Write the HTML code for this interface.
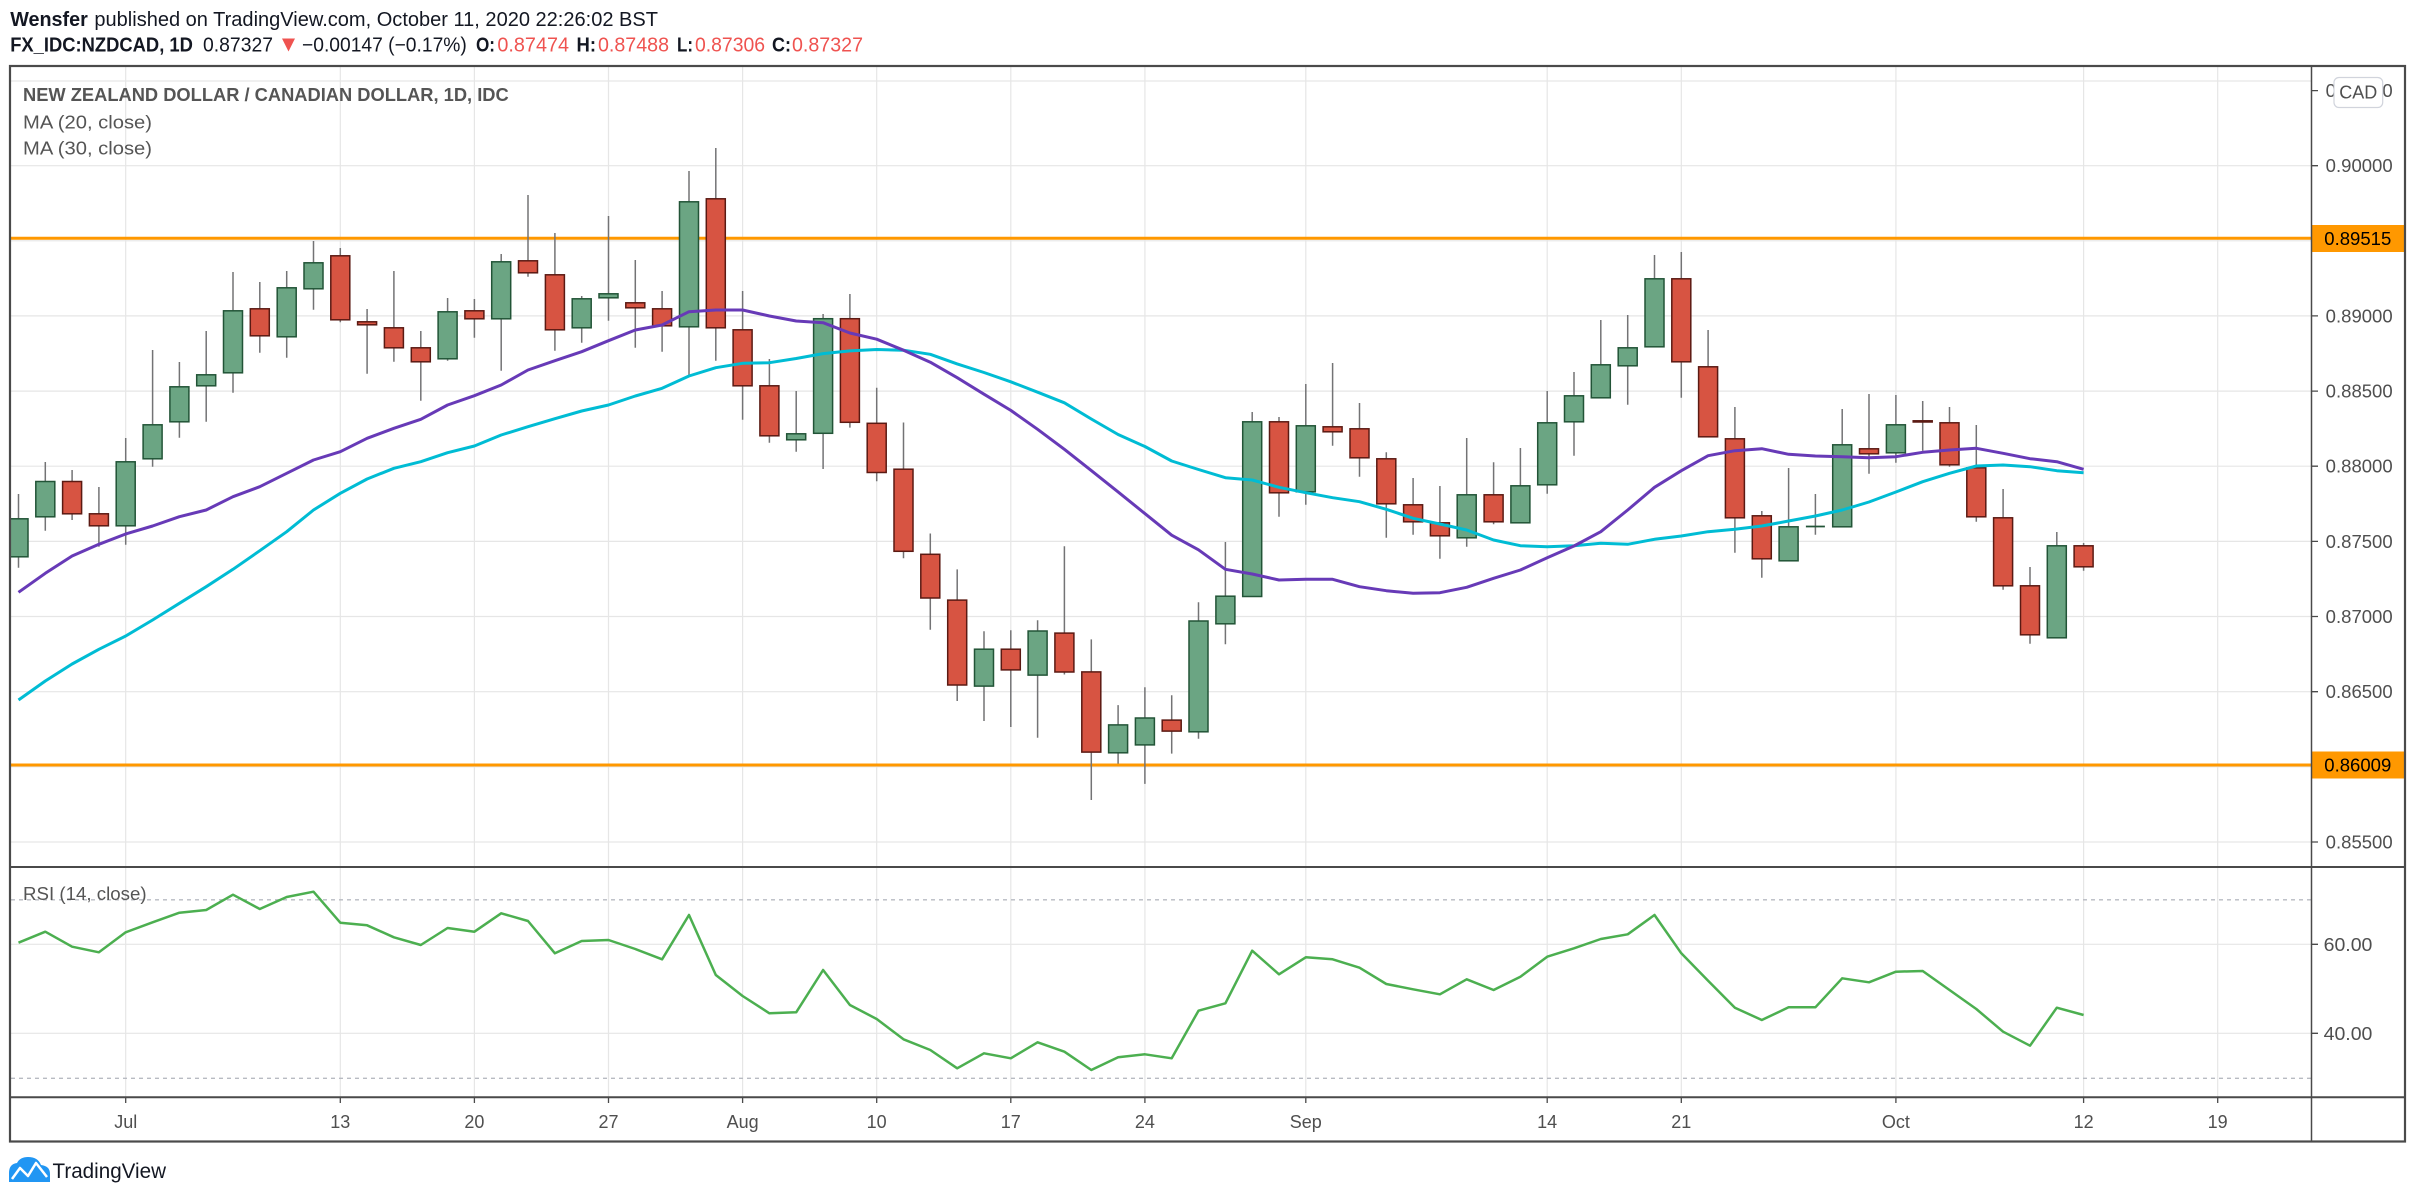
<!DOCTYPE html>
<html><head><meta charset="utf-8"><style>
html,body{margin:0;padding:0;background:#fff;}
svg{display:block;}
text{font-family:"Liberation Sans",Arial,sans-serif;}
.g{fill:#6ba583;stroke:#225437;stroke-width:1.5}
.r{fill:#d75442;stroke:#5b1a13;stroke-width:1.5}
.pl{font-size:18px;fill:#4f4f4f}
.tl{font-size:18px;fill:#4f4f4f;text-anchor:middle}
</style></head><body>
<svg width="2415" height="1199" viewBox="0 0 2415 1199" xmlns="http://www.w3.org/2000/svg">
<defs>
<clipPath id="cm"><rect x="11" y="67" width="2300" height="799"/></clipPath>
<clipPath id="cr"><rect x="11" y="868" width="2300" height="228"/></clipPath>
</defs>
<rect width="2415" height="1199" fill="#fff"/>

<!-- header -->
<text x="10.2" y="26" font-size="20" font-weight="bold" fill="#131722" textLength="77.6" lengthAdjust="spacingAndGlyphs">Wensfer</text>
<text x="94.4" y="26" font-size="20" fill="#131722" textLength="563.6" lengthAdjust="spacingAndGlyphs">published on TradingView.com, October 11, 2020 22:26:02 BST</text>
<text x="10.2" y="51.7" font-size="20" font-weight="bold" fill="#131722" textLength="182.7" lengthAdjust="spacingAndGlyphs">FX_IDC:NZDCAD, 1D</text>
<text x="203" y="51.7" font-size="20" fill="#131722" textLength="70" lengthAdjust="spacingAndGlyphs">0.87327</text>
<polygon points="282,38.5 295,38.5 288.5,51.5" fill="#ef5350"/>
<text x="302" y="51.7" font-size="20" fill="#131722" textLength="164.8" lengthAdjust="spacingAndGlyphs">−0.00147 (−0.17%)</text>
<text x="476" y="51.7" font-size="20" font-weight="bold" fill="#131722" textLength="19" lengthAdjust="spacingAndGlyphs">O:</text>
<text x="497.4" y="51.7" font-size="20" fill="#ef5350" textLength="71.6" lengthAdjust="spacingAndGlyphs">0.87474</text>
<text x="576.5" y="51.7" font-size="20" font-weight="bold" fill="#131722" textLength="19.5" lengthAdjust="spacingAndGlyphs">H:</text>
<text x="598" y="51.7" font-size="20" fill="#ef5350" textLength="71" lengthAdjust="spacingAndGlyphs">0.87488</text>
<text x="677" y="51.7" font-size="20" font-weight="bold" fill="#131722" textLength="16" lengthAdjust="spacingAndGlyphs">L:</text>
<text x="695" y="51.7" font-size="20" fill="#ef5350" textLength="70" lengthAdjust="spacingAndGlyphs">0.87306</text>
<text x="772" y="51.7" font-size="20" font-weight="bold" fill="#131722" textLength="19" lengthAdjust="spacingAndGlyphs">C:</text>
<text x="792" y="51.7" font-size="20" fill="#ef5350" textLength="71" lengthAdjust="spacingAndGlyphs">0.87327</text>

<!-- gridlines -->
<g stroke="#e6e6e6" stroke-width="1.2">
<path d="M11 81H2311M11 165.7H2311M11 240.8H2311M11 315.9H2311M11 391.1H2311M11 466.2H2311M11 541.4H2311M11 616.5H2311M11 691.7H2311M11 766.8H2311M11 842H2311"/>
<path d="M11 944.3H2311M11 1033.3H2311"/>
<path d="M125.7 67V1097M340.3 67V1097M474.4 67V1097M608.5 67V1097M742.6 67V1097M876.7 67V1097M1010.8 67V1097M1144.9 67V1097M1305.8 67V1097M1547.2 67V1097M1681.3 67V1097M1895.9 67V1097M2083.6 67V1097M2217.7 67V1097"/>
</g>
<path d="M11 899.8H2311M11 1078.3H2311" stroke="#b8bbc2" stroke-width="1.3" stroke-dasharray="4 4"/>

<!-- main pane -->
<g clip-path="url(#cm)">
<path d="M11 238.3H2311M11 765H2311" stroke="#ff9800" stroke-width="3"/>
<path stroke="#737375" stroke-width="1.5" fill="none" d="M18.5 494V567.7M45.3 462V530.7M72.1 470V520M98.9 487V546.7M125.7 438V544.7M152.6 350V466.7M179.4 362V437.7M206.2 331V421.7M233 272V392.7M259.8 282V352.7M286.7 271V357.7M313.5 241V309.7M340.3 248V322.3M367.1 309V373.7M393.9 271V361.7M420.8 331V400.7M447.6 298V360.7M474.4 299V337.7M501.2 254V370.7M528 195V276.7M554.9 233V350.7M581.7 296V342.7M608.5 216V320.7M635.3 260V347.7M662.1 291V351.7M689 171V375.7M715.8 148V360.7M742.6 291V419.7M769.4 359V442.7M796.2 391V451.7M823.1 314V469M849.9 294V427.6M876.7 387.7V481.3M903.5 422.5V558.3M930.3 533.5V629.8M957.2 569.4V701M984 631.2V721M1010.8 630.2V727M1037.6 620.2V737.8M1064.4 546.3V674.5M1091.3 639.4V800M1118.1 705.1V763.6M1144.9 687.3V783.9M1171.7 695.2V753.6M1198.5 602.3V738.8M1225.4 542V644.3M1252.2 412V597M1279 417V516.7M1305.8 384V504.7M1332.6 363V445.7M1359.5 403V476.7M1386.3 452.3V537.7M1413.1 478V534.7M1439.9 486V558.7M1466.7 438V546.7M1493.6 462.3V524.3M1520.4 448V523.3M1547.2 391V493.7M1574 372V455.7M1600.8 320V398.3M1627.7 315V404.7M1654.5 255V347.3M1681.3 252V397.7M1708.1 330V437.3M1734.9 407V552.7M1761.8 511V577.7M1788.6 468V561.3M1815.4 494V534.7M1842.2 409V527.3M1869 394V473.7M1895.9 395V462.7M1922.7 401V450.7M1949.5 407V466.7M1976.3 425V521.7M2003.1 489V589.7M2030 567V643.7M2056.8 532V638.3M2083.6 543V570.7"/>
<rect class="g" x="9" y="518.8" width="19" height="38"/>
<rect class="g" x="35.8" y="481.5" width="19" height="35.3"/>
<rect class="r" x="62.6" y="481.5" width="19" height="32.3"/>
<rect class="r" x="89.4" y="513.8" width="19" height="12"/>
<rect class="g" x="116.2" y="461.8" width="19" height="64"/>
<rect class="g" x="143.1" y="424.8" width="19" height="34"/>
<rect class="g" x="169.9" y="386.8" width="19" height="35"/>
<rect class="g" x="196.7" y="374.8" width="19" height="11"/>
<rect class="g" x="223.5" y="310.8" width="19" height="62"/>
<rect class="r" x="250.3" y="308.8" width="19" height="27"/>
<rect class="g" x="277.2" y="287.8" width="19" height="49"/>
<rect class="g" x="304" y="262.8" width="19" height="26"/>
<rect class="r" x="330.8" y="255.8" width="19" height="64"/>
<rect class="r" x="357.6" y="321.8" width="19" height="3"/>
<rect class="r" x="384.4" y="327.8" width="19" height="20"/>
<rect class="r" x="411.3" y="347.8" width="19" height="14"/>
<rect class="g" x="438.1" y="311.8" width="19" height="47"/>
<rect class="r" x="464.9" y="310.8" width="19" height="8"/>
<rect class="g" x="491.7" y="261.8" width="19" height="57"/>
<rect class="r" x="518.5" y="260.8" width="19" height="12"/>
<rect class="r" x="545.4" y="274.8" width="19" height="55"/>
<rect class="g" x="572.2" y="298.8" width="19" height="29"/>
<rect class="g" x="599" y="293.8" width="19" height="4"/>
<rect class="r" x="625.8" y="302.8" width="19" height="5"/>
<rect class="r" x="652.6" y="308.8" width="19" height="17"/>
<rect class="g" x="679.5" y="201.8" width="19" height="125"/>
<rect class="r" x="706.3" y="198.8" width="19" height="129"/>
<rect class="r" x="733.1" y="329.8" width="19" height="56"/>
<rect class="r" x="759.9" y="385.8" width="19" height="50"/>
<rect class="g" x="786.7" y="433.8" width="19" height="6"/>
<rect class="g" x="813.6" y="318.7" width="19" height="114.6"/>
<rect class="r" x="840.4" y="318.7" width="19" height="103.6"/>
<rect class="r" x="867.2" y="423.3" width="19" height="49.2"/>
<rect class="r" x="894" y="469.2" width="19" height="82.1"/>
<rect class="r" x="920.8" y="554.3" width="19" height="43.7"/>
<rect class="r" x="947.7" y="600.1" width="19" height="84.9"/>
<rect class="g" x="974.5" y="649.2" width="19" height="36.9"/>
<rect class="r" x="1001.3" y="649.2" width="19" height="20.7"/>
<rect class="g" x="1028.1" y="631" width="19" height="44.1"/>
<rect class="r" x="1054.9" y="633.1" width="19" height="38.9"/>
<rect class="r" x="1081.8" y="671.9" width="19" height="80.2"/>
<rect class="g" x="1108.6" y="724.9" width="19" height="27.9"/>
<rect class="g" x="1135.4" y="718" width="19" height="26.9"/>
<rect class="r" x="1162.2" y="720.1" width="19" height="11"/>
<rect class="g" x="1189" y="621" width="19" height="110.8"/>
<rect class="g" x="1215.9" y="596.2" width="19" height="27.6"/>
<rect class="g" x="1242.7" y="421.8" width="19" height="174.7"/>
<rect class="r" x="1269.5" y="421.8" width="19" height="71"/>
<rect class="g" x="1296.3" y="425.8" width="19" height="66"/>
<rect class="r" x="1323.1" y="426.8" width="19" height="5"/>
<rect class="r" x="1350" y="428.8" width="19" height="29"/>
<rect class="r" x="1376.8" y="458.8" width="19" height="45"/>
<rect class="r" x="1403.6" y="504.8" width="19" height="17"/>
<rect class="r" x="1430.4" y="522.8" width="19" height="13"/>
<rect class="g" x="1457.2" y="494.8" width="19" height="43"/>
<rect class="r" x="1484.1" y="494.8" width="19" height="27"/>
<rect class="g" x="1510.9" y="485.8" width="19" height="37"/>
<rect class="g" x="1537.7" y="422.8" width="19" height="62"/>
<rect class="g" x="1564.5" y="395.8" width="19" height="26"/>
<rect class="g" x="1591.3" y="364.8" width="19" height="33"/>
<rect class="g" x="1618.2" y="347.8" width="19" height="18"/>
<rect class="g" x="1645" y="278.8" width="19" height="68"/>
<rect class="r" x="1671.8" y="278.8" width="19" height="83"/>
<rect class="r" x="1698.6" y="366.8" width="19" height="70"/>
<rect class="r" x="1725.4" y="438.8" width="19" height="79"/>
<rect class="r" x="1752.3" y="515.8" width="19" height="43"/>
<rect class="g" x="1779.1" y="526.8" width="19" height="34"/>
<path d="M1805.9 526.5H1824.9" stroke="#225437" stroke-width="1.8"/>
<rect class="g" x="1832.7" y="444.8" width="19" height="82"/>
<rect class="r" x="1859.5" y="448.8" width="19" height="5"/>
<rect class="g" x="1886.4" y="424.8" width="19" height="28"/>
<rect class="r" x="1913.2" y="420.8" width="19" height="1.2"/>
<rect class="r" x="1940" y="422.8" width="19" height="42"/>
<rect class="r" x="1966.8" y="467.8" width="19" height="49"/>
<rect class="r" x="1993.6" y="517.8" width="19" height="68"/>
<rect class="r" x="2020.5" y="585.8" width="19" height="49"/>
<rect class="g" x="2047.3" y="545.8" width="19" height="92"/>
<rect class="r" x="2074.1" y="545.8" width="19" height="21"/>

<polyline fill="none" stroke="#00bcd4" stroke-width="3" stroke-linejoin="round" points="18.5,700 45.3,681 72.1,664 98.9,649.3 125.7,636 152.6,620 179.4,603.3 206.2,586.7 233,569.3 259.8,550.7 286.7,531.7 313.5,510 340.3,493.3 367.1,479 393.9,468.3 420.8,461.7 447.6,452.7 474.4,446 501.2,435 528,426.7 554.9,418.7 581.7,411 608.5,405 635.3,396 662.1,388.3 689,376 715.8,367.7 742.6,363.3 769.4,362.7 796.2,358.5 823.1,353.6 849.9,350.9 876.7,349.5 903.5,350.2 930.3,354.3 957.2,363.9 984,372.5 1010.8,381.8 1037.6,392.2 1064.4,402.8 1091.3,419 1118.1,434.5 1144.9,446.5 1171.7,461 1198.5,469.5 1225.4,477.7 1252.2,480 1279,487.3 1305.8,492.7 1332.6,497.7 1359.5,501.7 1386.3,509.3 1413.1,518.3 1439.9,524 1466.7,530 1493.6,540 1520.4,545.7 1547.2,546.7 1574,545.7 1600.8,543.3 1627.7,544.3 1654.5,539.3 1681.3,536 1708.1,531.7 1734.9,529.3 1761.8,526 1788.6,521 1815.4,516 1842.2,510 1869,502 1895.9,492 1922.7,481.7 1949.5,473.3 1976.3,466 2003.1,465 2030,466.7 2056.8,470.7 2083.6,472.7"/>
<polyline fill="none" stroke="#673ab7" stroke-width="3" stroke-linejoin="round" points="18.5,592.3 45.3,573.3 72.1,556 98.9,544.3 125.7,534 152.6,526 179.4,516.7 206.2,510 233,496.7 259.8,486.7 286.7,473.3 313.5,460 340.3,451.7 367.1,438.3 393.9,428.3 420.8,419.3 447.6,405 474.4,395.7 501.2,385 528,370 554.9,360.7 581.7,351.7 608.5,340.7 635.3,330 662.1,325 689,311.7 715.8,310 742.6,310 769.4,316 796.2,321 823.1,322.7 849.9,333 876.7,339.2 903.5,350.2 930.3,362.2 957.2,377.7 984,394.2 1010.8,410.4 1037.6,429.3 1064.4,449.3 1091.3,470.6 1118.1,491.9 1144.9,513.6 1171.7,535.2 1198.5,549.8 1225.4,569.3 1252.2,574 1279,580 1305.8,579.3 1332.6,579.3 1359.5,586.7 1386.3,590.7 1413.1,593.3 1439.9,592.7 1466.7,587.3 1493.6,578.3 1520.4,570 1547.2,557.7 1574,546 1600.8,531.7 1627.7,510 1654.5,487.3 1681.3,470.7 1708.1,455.7 1734.9,450.7 1761.8,448.7 1788.6,454.3 1815.4,456 1842.2,456.7 1869,457.7 1895.9,456.7 1922.7,452.3 1949.5,450 1976.3,448.3 2003.1,453.3 2030,458.7 2056.8,461.7 2083.6,469.3"/>
</g>

<!-- legends -->
<text x="23" y="101" font-size="18" font-weight="bold" fill="#555" textLength="485.7" lengthAdjust="spacingAndGlyphs">NEW ZEALAND DOLLAR / CANADIAN DOLLAR, 1D, IDC</text>
<text x="23" y="128.3" font-size="18" fill="#555" textLength="129" lengthAdjust="spacingAndGlyphs">MA (20, close)</text>
<text x="23" y="154.3" font-size="18" fill="#555" textLength="129" lengthAdjust="spacingAndGlyphs">MA (30, close)</text>

<!-- RSI pane -->
<g clip-path="url(#cr)">
<polyline fill="none" stroke="#4caf50" stroke-width="2.5" stroke-linejoin="round" points="18.5,942.7 45.3,931.7 72.1,946.7 98.9,952.3 125.7,932.3 152.6,922.3 179.4,912.7 206.2,910 233,894.7 259.8,909 286.7,897 313.5,891.7 340.3,922.7 367.1,925.3 393.9,937.3 420.8,945 447.6,928 474.4,931.7 501.2,913.3 528,921 554.9,953.3 581.7,941 608.5,940 635.3,949 662.1,959.3 689,915 715.8,975 742.6,996 769.4,1013.3 796.2,1012.3 823.1,970 849.9,1005 876.7,1019 903.5,1039.3 930.3,1050 957.2,1068.3 984,1053.3 1010.8,1058.3 1037.6,1042.3 1064.4,1051.7 1091.3,1070 1118.1,1057.3 1144.9,1054.3 1171.7,1058.3 1198.5,1010.7 1225.4,1003.3 1252.2,950.7 1279,974.3 1305.8,957.3 1332.6,959.3 1359.5,967.7 1386.3,984 1413.1,989.3 1439.9,994.3 1466.7,979.3 1493.6,990 1520.4,976.7 1547.2,956.7 1574,948.3 1600.8,939 1627.7,934.3 1654.5,915 1681.3,953.3 1708.1,980.7 1734.9,1007.7 1761.8,1020 1788.6,1007.3 1815.4,1007.3 1842.2,978.3 1869,982.3 1895.9,971.7 1922.7,971 1949.5,990 1976.3,1009 2003.1,1031.7 2030,1045.7 2056.8,1007.7 2083.6,1015"/>
</g>
<text x="23" y="900" font-size="18" fill="#555" textLength="123.6" lengthAdjust="spacingAndGlyphs">RSI (14, close)</text>

<!-- price axis -->
<path stroke="#4a4a4a" stroke-width="1.3" d="M2311 90.6H2318M2311 165.7H2318M2311 240.8H2318M2311 315.9H2318M2311 391.1H2318M2311 466.2H2318M2311 541.4H2318M2311 616.5H2318M2311 691.7H2318M2311 766.8H2318M2311 842H2318M2311 944.3H2318M2311 1033.3H2318"/>
<text class="pl" x="2325.7" y="97.1" textLength="67" lengthAdjust="spacingAndGlyphs">0.90500</text>
<rect x="2334" y="77.5" width="48.7" height="30" rx="5" fill="#fff" stroke="#d1d4dc" stroke-width="1.2"/>
<text x="2358.3" y="98.5" font-size="18" fill="#4f4f4f" text-anchor="middle">CAD</text>
<text class="pl" x="2325.7" y="172.2" textLength="67" lengthAdjust="spacingAndGlyphs">0.90000</text>
<text class="pl" x="2325.7" y="322.4" textLength="67" lengthAdjust="spacingAndGlyphs">0.89000</text>
<text class="pl" x="2325.7" y="397.6" textLength="67" lengthAdjust="spacingAndGlyphs">0.88500</text>
<text class="pl" x="2325.7" y="472.7" textLength="67" lengthAdjust="spacingAndGlyphs">0.88000</text>
<text class="pl" x="2325.7" y="547.9" textLength="67" lengthAdjust="spacingAndGlyphs">0.87500</text>
<text class="pl" x="2325.7" y="623" textLength="67" lengthAdjust="spacingAndGlyphs">0.87000</text>
<text class="pl" x="2325.7" y="698.2" textLength="67" lengthAdjust="spacingAndGlyphs">0.86500</text>
<text class="pl" x="2325.7" y="848.5" textLength="67" lengthAdjust="spacingAndGlyphs">0.85500</text>
<rect x="2311" y="225" width="93" height="27" fill="#ff9800"/>
<text x="2324.3" y="244.8" font-size="18" fill="#000" textLength="67" lengthAdjust="spacingAndGlyphs">0.89515</text>
<rect x="2311" y="751.5" width="93" height="27" fill="#ff9800"/>
<text x="2324.3" y="771.5" font-size="18" fill="#000" textLength="67" lengthAdjust="spacingAndGlyphs">0.86009</text>
<text class="pl" x="2323.6" y="950.8" textLength="48.8" lengthAdjust="spacingAndGlyphs">60.00</text>
<text class="pl" x="2323.6" y="1039.8" textLength="48.8" lengthAdjust="spacingAndGlyphs">40.00</text>

<!-- time axis -->
<path stroke="#4a4a4a" stroke-width="1.3" d="M125.7 1097V1103M340.3 1097V1103M474.4 1097V1103M608.5 1097V1103M742.6 1097V1103M876.7 1097V1103M1010.8 1097V1103M1144.9 1097V1103M1305.8 1097V1103M1547.2 1097V1103M1681.3 1097V1103M1895.9 1097V1103M2083.6 1097V1103M2217.7 1097V1103"/>
<text class="tl" x="125.7" y="1128">Jul</text>
<text class="tl" x="340.3" y="1128">13</text>
<text class="tl" x="474.4" y="1128">20</text>
<text class="tl" x="608.5" y="1128">27</text>
<text class="tl" x="742.6" y="1128">Aug</text>
<text class="tl" x="876.7" y="1128">10</text>
<text class="tl" x="1010.8" y="1128">17</text>
<text class="tl" x="1144.9" y="1128">24</text>
<text class="tl" x="1305.8" y="1128">Sep</text>
<text class="tl" x="1547.2" y="1128">14</text>
<text class="tl" x="1681.3" y="1128">21</text>
<text class="tl" x="1895.9" y="1128">Oct</text>
<text class="tl" x="2083.6" y="1128">12</text>
<text class="tl" x="2217.7" y="1128">19</text>

<!-- frame & separators -->
<path stroke="#4a4a4a" stroke-width="2" fill="none" d="M10 867H2405M10 1097.3H2405"/>
<path stroke="#4a4a4a" stroke-width="1.5" fill="none" d="M2311.5 66V1141"/>
<rect x="10" y="66" width="2395" height="1075.5" fill="none" stroke="#4a4a4a" stroke-width="2.2"/>

<!-- logo -->
<path d="M9 1182V1173Q9 1164 17 1163Q20 1157 28 1157Q38 1157 41 1165Q50 1166 50 1174V1182Z" fill="#2196f3"/>
<polyline points="12,1179 20,1168 28,1176 36,1163 47,1177" fill="none" stroke="#fff" stroke-width="2.5" stroke-linejoin="round"/>
<text x="52.5" y="1178" font-size="21" fill="#131722" textLength="113.5" lengthAdjust="spacingAndGlyphs">TradingView</text>
</svg>
</body></html>
